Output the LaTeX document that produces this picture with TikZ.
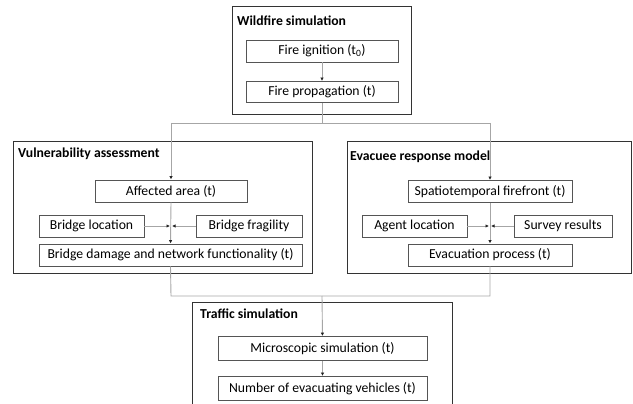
\documentclass[tikz,border=0pt]{standalone}
\usepackage{fontspec}
\setmainfont{Carlito}
\usetikzlibrary{arrows.meta}
\definecolor{outerc}{HTML}{333333}
\definecolor{innerc}{HTML}{555555}
\definecolor{linec}{HTML}{A6A6A6}
\definecolor{tipc}{HTML}{222222}
\tikzset{
  grp/.style={draw=outerc, line width=1pt, inner sep=0pt, minimum width=#1},
  box/.style={draw=innerc, line width=0.9pt, inner sep=0pt, minimum height=22pt, minimum width=#1,
    font=\fontsize{13.7}{16}\selectfont},
  ttl/.style={anchor=west, inner sep=0pt, font=\fontsize{13.7}{16}\selectfont\bfseries},
  conn/.style={draw=linec, line width=0.9pt},
  arr/.style={conn, -{Latex[length=3.5pt,width=3.5pt,color=tipc]}},
}
\begin{document}
\begin{tikzpicture}[x=1pt,y=-1pt]
\useasboundingbox (0,0) rectangle (633,404);
\clip (0,0) rectangle (633,404);
% group boxes
\node[grp=179pt, minimum height=108pt] (wild) at (321.5,61) {};
\node[grp=299pt, minimum height=131pt] (vul) at (162.5,207.5) {};
\node[grp=284pt, minimum height=131pt] (evac) at (489.5,207.5) {};
\node[grp=260pt, minimum height=130pt] (traf) at (322,367) {};
% titles
\node[ttl] (twild) at (237,21) {Wildfire simulation};
\node[ttl] (tvul) at (18,154) {Vulnerability assessment};
\node[ttl] (tevac) at (350,157) {Evacuee response model};
\node[ttl] (ttraf) at (200,314) {Traffic simulation};
% inner boxes
\node[box=152pt] (ign) at (322,51) {Fire ignition (t\textsubscript{0})};
\node[box=152pt, minimum height=21pt] (prop) at (322,92) {Fire propagation (t)};
\node[box=152pt] (aff) at (171,191) {Affected area (t)};
\node[box=105pt] (bloc) at (91.5,226) {Bridge location};
\node[box=106pt] (bfrag) at (249,226) {Bridge fragility};
\node[box=263pt] (bdam) at (170.5,255) {Bridge damage and network functionality (t)};
\node[box=164pt] (spat) at (490,191.5) {Spatiotemporal firefront (t)};
\node[box=105pt] (agent) at (414.5,226) {Agent location};
\node[box=98pt] (survey) at (563,226) {Survey results};
\node[box=164pt] (evp) at (490,255) {Evacuation process (t)};
\node[box=209pt, minimum height=24pt] (micro) at (322.5,348.5) {Microscopic simulation (t)};
\node[box=209pt, minimum height=24pt] (numv) at (322.5,388.5) {Number of evacuating vehicles (t)};
% junction coordinates
\coordinate (jtop) at (322,123);
\coordinate (jl) at (171,123);
\coordinate (jr) at (490,123);
\coordinate (mvl) at (171,226);
\coordinate (mvr) at (490,226);
\coordinate (jbot) at (322,296);
\coordinate (bl) at (171,296);
\coordinate (br) at (490,296);
% connectors
\draw[arr] (ign) -- (prop);
\draw[conn] (prop.south) -- (jtop);
\draw[conn] (jl) -- (jr);
\draw[arr] (jl) -- (aff.north);
\draw[arr] (jr) -- (spat.north);
\draw[arr] (aff.south) -- (bdam.north);
\draw[arr] (spat.south) -- (evp.north);
\draw[arr] (bloc.east) -- ([xshift=-1pt]mvl);
\draw[arr] (bfrag.west) -- ([xshift=1pt]mvl);
\draw[arr] (agent.east) -- ([xshift=-1pt]mvr);
\draw[arr] (survey.west) -- ([xshift=1pt]mvr);
\draw[conn] (bdam.south) -- (bl) -- (br) -- (evp.south);
\draw[arr] (jbot) -- (micro.north);
\draw[arr] (micro) -- (numv);
\end{tikzpicture}
\end{document}
